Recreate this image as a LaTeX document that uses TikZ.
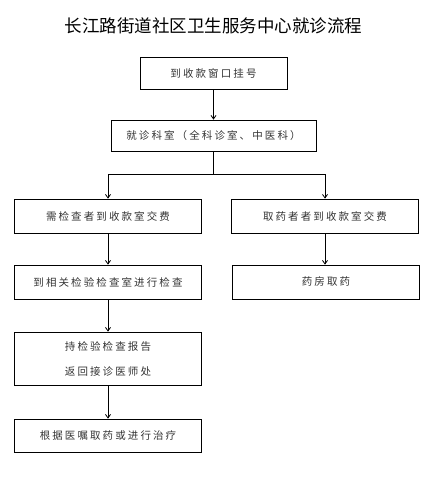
\documentclass[tikz,border=0pt]{standalone}
\usepackage{fontspec}
\newfontfamily\cjk{Noto Sans CJK SC}
\newfontfamily\cjkbox{Noto Sans CJK SC}[LetterSpace=20]
\usetikzlibrary{arrows.meta, positioning}

\begin{document}
\begin{tikzpicture}[x=1pt,y=-1pt,>={Straight Barb[length=3.5pt,width=5pt]},
  stepbox/.style={draw,line width=0.8pt,minimum width=187pt,minimum height=34pt,
    inner sep=0pt,align=center,font=\cjkbox\fontsize{10.5}{25}\selectfont,text=black!80},
  link/.style={->,line width=0.8pt}]
  \useasboundingbox (0,0) rectangle (434,477);
  \node[font=\cjk\fontsize{17.5}{20}\selectfont] (title) at (213.5,25.5)
    {长江路街道社区卫生服务中心就诊流程};
  % main column
  \node[stepbox,minimum width=147pt,minimum height=32pt] (reg) at (213.5,73)
    {到收款窗口挂号};
  \node[stepbox,minimum width=205pt,minimum height=31pt] (dept) at (213.5,135.5)
    {就诊科室（全科诊室、中医科）};
  \coordinate (split) at (213.5,174);
  % left branch
  \node[stepbox] (payexam) at (108,216) {需检查者到收款室交费};
  \node[stepbox] (exam) at (108,282) {到相关检验检查室进行检查};
  \node[stepbox,minimum height=53pt] (report) at (108,358.5)
    {持检验检查报告\\返回接诊医师处};
  \node[stepbox,minimum height=33pt] (treat) at (108,435.5)
    {根据医嘱取药或进行治疗};
  % right branch
  \node[stepbox] (paydrug) at (325,216) {取药者者到收款室交费};
  \node[stepbox] (pharm) at (326,282) {药房取药};
  % connectors
  \draw[link] (reg) -- (dept);
  \draw[line width=0.8pt] (dept) -- (split);
  \draw[link] (split) -| (payexam);
  \draw[link] (split) -| (paydrug);
  \draw[link] (payexam) -- (exam);
  \draw[link] (exam) -- (report);
  \draw[link] (report) -- (treat);
  \draw[link] (paydrug.south) -- (paydrug.south |- pharm.north);
\end{tikzpicture}
\end{document}
